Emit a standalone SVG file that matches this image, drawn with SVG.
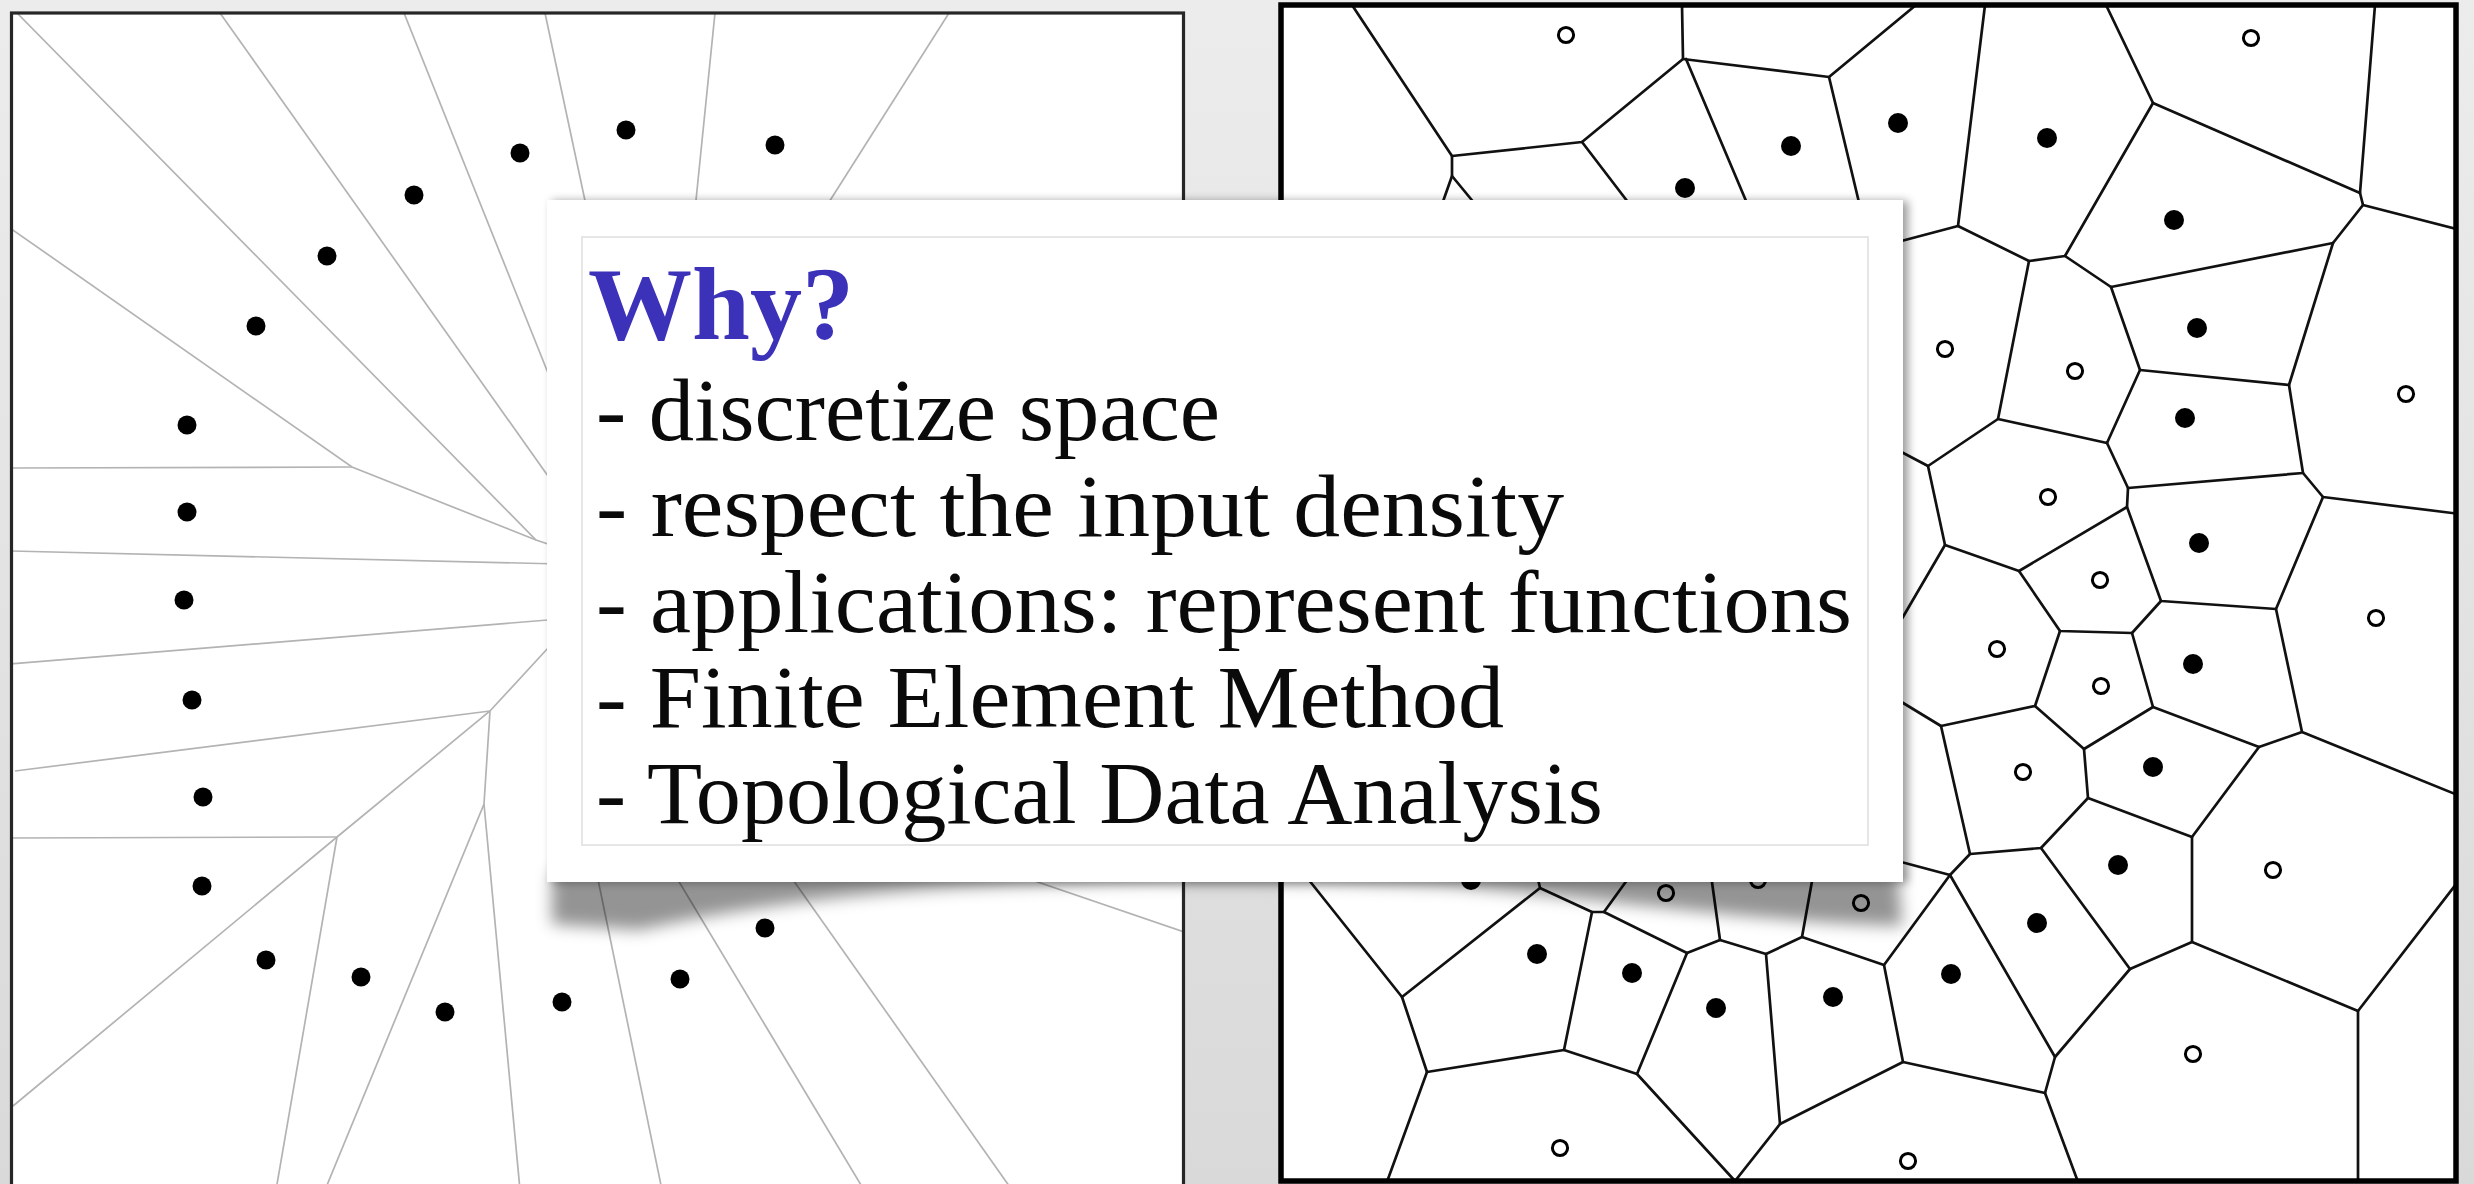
<svg xmlns="http://www.w3.org/2000/svg" width="2474" height="1184" viewBox="0 0 2474 1184">
  <style>
    .lp { stroke: #b3b3b3; stroke-width: 1.7; fill: none; }
    .vp { stroke: #111; stroke-width: 2.7; fill: none; stroke-linecap: round; stroke-linejoin: round; }
    .fd { fill: #000; }
    .hd { fill: #fff; stroke: #000; stroke-width: 3; }
    .body { font-family: "Liberation Serif", "DejaVu Serif", serif; font-size: 88px; fill: #0a0a0a; }
    .title { font-family: "Liberation Serif", "DejaVu Serif", serif; font-weight: bold; font-size: 104px; fill: #3c31b9; }
  </style>
  <defs>
    <linearGradient id="bg" x1="0" y1="0" x2="0" y2="1">
      <stop offset="0" stop-color="#ececec"/>
      <stop offset="1" stop-color="#d9d9d9"/>
    </linearGradient>
    <filter id="cardShadow" x="-3%" y="-3%" width="106%" height="106%">
      <feGaussianBlur in="SourceAlpha" stdDeviation="5"/>
      <feOffset dx="5" dy="1" result="b"/>
      <feComponentTransfer><feFuncA type="linear" slope="0.4"/></feComponentTransfer>
      <feMerge><feMergeNode/><feMergeNode in="SourceGraphic"/></feMerge>
    </filter>
    <filter id="blur" x="-5%" y="-50%" width="110%" height="200%">
      <feGaussianBlur stdDeviation="8"/>
    </filter>
    <clipPath id="rclip"><rect x="1281" y="5" width="1175" height="1176"/></clipPath>
    <clipPath id="lclip"><rect x="11" y="13" width="1173" height="1180"/></clipPath>
  </defs>

  <rect id="background" x="0" y="0" width="2474" height="1184" fill="url(#bg)"/>

  <g id="left-panel">
    <rect x="11.5" y="13" width="1172" height="1185" fill="#fff"/>
    <g id="left-edges" class="lp" clip-path="url(#lclip)">
      <path d="M17,13 L536,540 L560,548"/>
      <path d="M220,13 L560,493"/>
      <path d="M404,13 L560,403"/>
      <path d="M545,13 L587,210"/>
      <path d="M715,13 L695,210"/>
      <path d="M949,13 L824,210"/>
      <path d="M10,228 L352,467 L536,540"/>
      <path d="M10,468 L352,467"/>
      <path d="M10,551 L560,564"/>
      <path d="M10,664 L560,619"/>
      <path d="M560,635 L490,711 L337,837 L13,1106"/>
      <path d="M490,711 L15,771"/>
      <path d="M337,837 L10,838"/>
      <path d="M337,837 L276,1190"/>
      <path d="M490,711 L484,804 L325,1190"/>
      <path d="M484,804 L520,1190"/>
      <path d="M594,860 L662,1190"/>
      <path d="M666,860 L864,1190"/>
      <path d="M779,860 L1012,1190"/>
      <path d="M973,860 L1184,932"/>
    </g>
    <g id="left-sites" class="fd">
      <circle cx="520" cy="153" r="9.5"/>
      <circle cx="626" cy="130" r="9.5"/>
      <circle cx="775" cy="145" r="9.5"/>
      <circle cx="414" cy="195" r="9.5"/>
      <circle cx="327" cy="256" r="9.5"/>
      <circle cx="256" cy="326" r="9.5"/>
      <circle cx="187" cy="425" r="9.5"/>
      <circle cx="187" cy="512" r="9.5"/>
      <circle cx="184" cy="600" r="9.5"/>
      <circle cx="192" cy="700" r="9.5"/>
      <circle cx="203" cy="797" r="9.5"/>
      <circle cx="202" cy="886" r="9.5"/>
      <circle cx="266" cy="960" r="9.5"/>
      <circle cx="361" cy="977" r="9.5"/>
      <circle cx="445" cy="1012" r="9.5"/>
      <circle cx="562" cy="1002" r="9.5"/>
      <circle cx="680" cy="979" r="9.5"/>
      <circle cx="765" cy="928" r="9.5"/>
    </g>
    <rect x="11.5" y="13" width="1172" height="1185" fill="none" stroke="#262626" stroke-width="3.2"/>
  </g>

  <g id="right-panel">
    <rect x="1281" y="5" width="1175" height="1176" fill="#fff"/>
    <g id="voronoi-edges" class="vp" clip-path="url(#rclip)">
      <path d="M1352,5 L1452,156 L1582,142 L1683,59 L1682,5"/>
      <path d="M1683,59 L1829,77 L1916,5"/>
      <path d="M1686,59 L1752,215"/>
      <path d="M1829,77 L1862,215"/>
      <path d="M1452,156 L1452,176 L1440,210"/>
      <path d="M1452,176 L1480,210"/>
      <path d="M1582,142 L1634,210"/>
      <path d="M1985,5 L1958,226 L1890,244"/>
      <path d="M1958,226 L2029,261 L2065,256 L2153,103 L2106,5"/>
      <path d="M2153,103 L2360,193 L2375,5"/>
      <path d="M2360,193 L2363,205 L2460,230"/>
      <path d="M2363,205 L2333,243 L2111,287 L2065,256"/>
      <path d="M2029,261 L1998,419 L2107,443 L2140,370 L2111,287"/>
      <path d="M2140,370 L2289,385 L2333,243"/>
      <path d="M1998,419 L1928,466 L1890,446"/>
      <path d="M1928,466 L1945,545 L2019,571 L2127,507 L2128,488 L2107,443"/>
      <path d="M2128,488 L2303,473 L2289,385"/>
      <path d="M2303,473 L2323,497 L2460,514"/>
      <path d="M2323,497 L2276,609 L2161,601 L2127,507"/>
      <path d="M1945,545 L1893,634"/>
      <path d="M2019,571 L2060,631 L2132,633 L2161,601"/>
      <path d="M2276,609 L2302,732 L2460,796"/>
      <path d="M2302,732 L2259,747 L2153,707 L2132,633"/>
      <path d="M2153,707 L2084,749 L2035,706 L2060,631"/>
      <path d="M2035,706 L1941,726 L1890,695"/>
      <path d="M1941,726 L1970,854 L2041,848 L2088,798 L2084,749"/>
      <path d="M2088,798 L2192,837 L2259,747"/>
      <path d="M1970,854 L1950,875 L1890,859"/>
      <path d="M1950,875 L1884,965 L1802,937"/>
      <path d="M1950,875 L2055,1057 L2130,969 L2041,848"/>
      <path d="M2192,837 L2192,942 L2130,969"/>
      <path d="M2192,942 L2358,1011 L2460,879"/>
      <path d="M2358,1011 L2358,1190"/>
      <path d="M2055,1057 L2045,1093 L1903,1062 L1780,1124"/>
      <path d="M2045,1093 L2081,1190"/>
      <path d="M1884,965 L1903,1062"/>
      <path d="M1293,860 L1402,997 L1540,888 L1592,912 L1604,912 L1630,876"/>
      <path d="M1540,888 L1536,870"/>
      <path d="M1604,912 L1687,953 L1720,940 L1711,875"/>
      <path d="M1592,912 L1564,1050 L1637,1074 L1687,953"/>
      <path d="M1402,997 L1427,1072 L1564,1050"/>
      <path d="M1720,940 L1766,954 L1802,937 L1814,870"/>
      <path d="M1766,954 L1780,1124 L1735,1181 L1637,1074"/>
      <path d="M1735,1181 L1733,1190"/>
      <path d="M1427,1072 L1384,1190"/>
    </g>
    <g id="voronoi-filled-sites" class="fd">
      <circle cx="1685" cy="188" r="10"/>
      <circle cx="1791" cy="146" r="10"/>
      <circle cx="1898" cy="123" r="10"/>
      <circle cx="2047" cy="138" r="10"/>
      <circle cx="2174" cy="220" r="10"/>
      <circle cx="2197" cy="328" r="10"/>
      <circle cx="2185" cy="418" r="10"/>
      <circle cx="2199" cy="543" r="10"/>
      <circle cx="2193" cy="664" r="10"/>
      <circle cx="2153" cy="767" r="10"/>
      <circle cx="2118" cy="865" r="10"/>
      <circle cx="2037" cy="923" r="10"/>
      <circle cx="1951" cy="974" r="10"/>
      <circle cx="1537" cy="954" r="10"/>
      <circle cx="1632" cy="973" r="10"/>
      <circle cx="1716" cy="1008" r="10"/>
      <circle cx="1833" cy="997" r="10"/>
      <circle cx="1471" cy="880" r="10"/>
    </g>
    <g id="voronoi-hollow-sites" class="hd">
      <circle cx="1566" cy="35" r="7.6"/>
      <circle cx="2251" cy="38" r="7.6"/>
      <circle cx="1945" cy="349" r="7.6"/>
      <circle cx="2075" cy="371" r="7.6"/>
      <circle cx="2406" cy="394" r="7.6"/>
      <circle cx="2048" cy="497" r="7.6"/>
      <circle cx="2100" cy="580" r="7.6"/>
      <circle cx="2376" cy="618" r="7.6"/>
      <circle cx="1997" cy="649" r="7.6"/>
      <circle cx="2101" cy="686" r="7.6"/>
      <circle cx="2023" cy="772" r="7.6"/>
      <circle cx="2273" cy="870" r="7.6"/>
      <circle cx="2193" cy="1054" r="7.6"/>
      <circle cx="1908" cy="1161" r="7.6"/>
      <circle cx="1560" cy="1148" r="7.6"/>
      <circle cx="1666" cy="893" r="7.6"/>
      <circle cx="1758" cy="880" r="7.6"/>
      <circle cx="1861" cy="903" r="7.6"/>
    </g>
    <rect x="1281" y="5" width="1175" height="1176" fill="none" stroke="#000" stroke-width="5.5"/>
  </g>

  <g id="card">
    <path d="M552,872 L1898,872 L1902,926 C1760,922 1620,900 1450,886 C1300,880 1100,880 950,888 C820,896 720,912 640,930 L552,924 Z" fill="#000" fill-opacity="0.42" filter="url(#blur)"/>
    <rect x="547" y="200" width="1356" height="682" fill="#fff" filter="url(#cardShadow)"/>
    <rect x="582" y="237" width="1286" height="608" fill="none" stroke="#e6e6e6" stroke-width="2"/>
    <text class="title" x="588" y="339" textLength="266" lengthAdjust="spacingAndGlyphs">Why?</text>
    <text class="body" x="596" y="440" textLength="624" lengthAdjust="spacingAndGlyphs">- discretize space</text>
    <text class="body" x="596" y="536" textLength="968" lengthAdjust="spacingAndGlyphs">- respect the input density</text>
    <text class="body" x="596" y="632" textLength="1256" lengthAdjust="spacingAndGlyphs">- applications: represent functions</text>
    <text class="body" x="596" y="727" textLength="908" lengthAdjust="spacingAndGlyphs">- Finite Element Method</text>
    <text class="body" x="596" y="823" textLength="1007" lengthAdjust="spacingAndGlyphs">- Topological Data Analysis</text>
  </g>
</svg>
